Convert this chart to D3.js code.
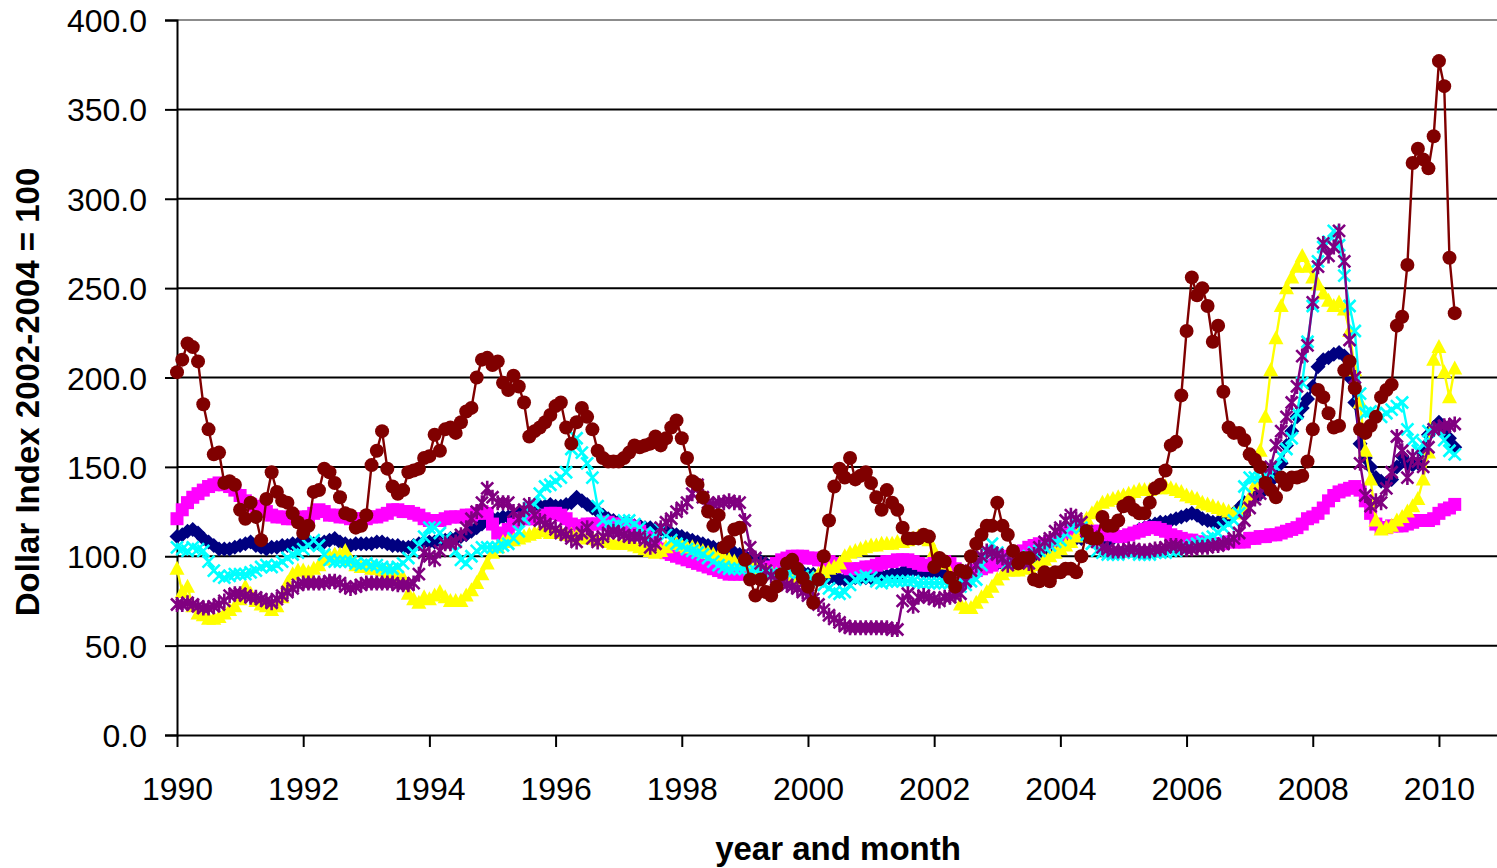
<!DOCTYPE html>
<html><head><meta charset="utf-8">
<script src="https://cdn.jsdelivr.net/npm/d3@7"></script>
<style>
html,body{margin:0;padding:0;background:#fff;}
svg{display:block;}
text{font-family:"Liberation Sans",Arial,sans-serif;fill:#000;}
</style></head>
<body>
<svg id="chart" width="1497" height="868"></svg>
<script>
// Monthly observations, Jan 1990 .. Apr 2010
const startYear = 1990;
const xTickYears = [1990,1992,1994,1996,1998,2000,2002,2004,2006,2008,2010];
const yTickValues = [0,50,100,150,200,250,300,350,400];
const yAxisTitle = "Dollar Index 2002-2004 = 100";
const xAxisTitle = "year and month";

const navy = [
111,112,114,115,113,110,108,106,104,104,104,105,
106,107,108,106,105,104,105,105,106,106,107,107,
108,108,107,107,108,109,110,108,107,106,107,107,
107,107,108,108,107,106,106,105,105,106,107,108,
108,108,109,109,110,110,111,112,114,116,118,120,
121,121,122,122,123,124,125,126,127,128,128,129,
128,128,129,130,133,131,129,127,125,123,121,120,
119,118,118,117,117,116,116,115,115,114,113,112,
111,110,109,108,107,106,105,104,103,102,102,101,
100,99,98,97,96,95,94,93,93,92,91,91,
90,90,89,89,88,88,87,87,87,88,88,88,
88,89,89,89,90,90,91,92,92,92,91,91,
91,91,90,90,89,88,89,91,93,94,95,96,
96,96,97,97,98,98,99,100,101,102,104,106,
107,108,109,110,110,111,111,110,109,109,110,111,
111,112,113,115,116,117,118,119,119,120,121,122,
123,124,123,121,120,119,119,120,122,124,127,130,
131,133,135,138,142,146,152,162,170,178,183,188,
195,206,210,211,213,214,212,200,186,163,155,150,
144,142,141,143,150,156,152,151,152,158,168,172,
175,170,166,161];

const magenta = [
121,126,130,133,135,137,139,140,141,140,139,137,
134,131,129,128,127,125,123,122,122,121,121,121,
122,122,124,126,125,123,123,122,122,121,121,121,
121,122,122,123,124,126,126,125,125,124,123,121,
120,120,120,121,122,122,122,123,123,124,125,124,
118,113,112,115,118,121,121,121,121,122,123,124,
124,123,121,118,117,117,118,118,118,119,119,118,
118,118,117,116,114,112,110,107,104,102,101,100,
99,98,97,96,95,94,93,92,91,90,90,90,
90,91,91,92,93,94,96,98,99,100,100,100,
99,99,98,98,97,96,95,94,93,93,93,94,
94,95,96,97,97,98,98,98,97,96,95,95,
97,97,97,96,93,91,90,90,92,93,94,95,
97,99,100,101,102,103,105,106,107,107,108,109,
111,113,114,115,115,115,114,114,113,112,112,111,
111,112,113,114,115,116,116,115,114,112,111,110,
109,109,108,108,107,107,107,107,108,108,108,108,
110,110,111,111,112,112,113,114,115,116,118,121,
122,124,127,131,134,136,137,138,139,137,131,124,
118,116,116,117,117,117,118,119,120,120,120,121,
124,126,127,129];

const yellow = [
93,80,83,72,68,67,65,65,66,68,70,72,
76,83,79,75,73,72,70,72,77,85,90,92,
92,91,93,95,98,100,101,101,103,98,95,94,
94,93,93,92,91,90,89,88,79,76,74,77,
76,78,80,77,75,75,75,78,81,85,90,96,
102,105,108,109,109,110,111,112,113,114,114,113,
113,113,112,112,111,111,110,110,109,109,108,107,
107,107,107,106,105,104,103,102,103,105,107,107,
106,105,105,104,103,102,101,100,99,98,97,96,
96,95,94,93,92,91,90,89,88,88,87,87,
87,88,90,91,93,94,96,100,102,103,104,105,
106,106,107,107,107,108,108,109,110,111,110,109,
103,98,96,90,83,73,71,71,74,77,80,83,
87,90,92,92,92,93,94,95,96,98,100,102,
104,106,108,111,116,121,124,127,130,131,132,133,
134,135,136,137,137,137,138,138,139,138,137,136,
134,133,132,130,129,128,127,126,125,124,124,126,
133,140,159,178,204,222,240,250,256,262,268,262,
256,252,247,243,240,242,238,226,204,186,159,143,
120,115,116,117,120,122,125,128,132,143,158,210,
217,203,189,205];

const cyan = [
105,104,103,105,104,103,97,92,89,88,89,90,
90,90,91,92,94,95,94,95,97,99,101,102,
104,106,109,106,101,98,97,97,97,97,96,95,
96,95,95,94,93,93,94,96,99,102,106,111,
116,116,113,110,107,103,98,96,100,103,105,105,
105,105,106,107,110,114,121,127,129,135,139,140,
142,144,147,160,166,158,152,144,128,120,118,117,
118,120,120,118,116,113,110,113,115,112,109,107,
106,104,103,102,101,99,97,95,94,93,93,93,
93,92,92,91,91,90,90,90,91,91,90,89,
88,87,86,84,82,80,79,80,84,87,88,89,
88,86,85,86,86,86,86,86,86,85,85,85,
85,85,85,85,84,83,84,86,87,95,102,107,
102,99,96,97,98,99,100,102,103,105,106,108,
109,113,116,118,116,112,107,103,102,101,101,101,
102,102,102,101,101,101,102,102,102,103,103,104,
105,106,107,108,110,111,113,116,118,120,124,139,
144,144,144,145,146,150,156,160,166,180,197,220,
240,265,273,276,282,274,257,240,226,191,180,181,
180,178,180,182,184,186,171,165,159,163,170,171,
171,165,159,157];

const purple = [
73,73,74,73,72,71,71,72,73,75,78,79,
79,78,77,77,76,75,74,76,78,80,82,84,
85,85,85,85,85,86,86,85,83,82,83,84,
85,85,85,85,85,85,84,84,84,85,90,102,
100,98,103,107,107,108,112,116,121,125,130,138,
133,130,130,130,125,121,126,129,123,120,118,117,
115,113,112,110,108,113,116,110,108,111,113,114,
113,112,111,111,111,109,105,107,116,119,121,125,
127,130,135,140,133,130,129,130,130,131,130,130,
120,105,99,96,92,89,87,85,84,83,82,80,
78,76,73,70,67,65,63,61,60,60,60,60,
60,60,60,60,59,59,75,79,72,77,78,77,
76,75,77,77,78,79,86,92,95,100,103,102,
101,99,95,97,98,97,96,101,105,108,110,114,
116,120,123,121,119,114,111,108,105,104,103,103,
103,104,104,103,103,103,104,104,105,106,106,105,
104,104,105,105,105,106,106,107,108,110,113,120,
127,132,135,140,150,162,170,178,186,195,212,218,
242,262,275,268,273,282,265,221,200,152,134,128,
131,130,138,147,167,159,144,156,153,150,161,171,
172,173,173,174];

const darkred = [
203,210,219,217,209,185,171,157,158,141,142,140,
126,121,130,122,109,132,147,136,131,130,124,119,
113,117,136,137,149,147,141,133,124,123,116,117,
123,151,159,170,149,139,135,137,147,148,149,155,
156,168,159,171,172,169,175,181,183,200,210,211,
207,209,197,193,201,195,186,167,170,172,175,179,
184,186,172,163,175,183,178,171,159,155,153,153,
153,155,158,162,161,162,163,167,162,166,172,176,
166,155,142,140,133,125,117,123,105,108,115,116,
98,87,78,87,80,78,83,90,96,98,93,88,
83,74,87,100,120,139,149,144,155,143,145,147,
141,133,126,137,130,126,116,110,110,110,112,111,
94,99,97,88,83,92,91,100,107,112,117,117,
130,117,112,103,96,99,99,87,86,91,86,91,
91,93,93,91,100,114,110,110,122,117,117,120,
128,130,126,124,124,130,138,140,148,162,164,190,
226,256,246,250,240,220,229,192,172,169,169,165,
157,154,150,141,137,133,144,140,144,144,145,153,
171,193,189,180,172,173,204,209,194,171,169,173,
178,189,193,196,229,234,263,320,328,322,317,335,
377,363,267,236];

const seriesList = [
  {name:"navy", values:navy, color:"#000080", marker:"diamond"},
  {name:"magenta", values:magenta, color:"#FF00FF", marker:"square"},
  {name:"yellow", values:yellow, color:"#FFFF00", marker:"triangle"},
  {name:"cyan", values:cyan, color:"#00FFFF", marker:"x"},
  {name:"purple", values:purple, color:"#800080", marker:"star"},
  {name:"darkred", values:darkred, color:"#800000", marker:"circle"}
];

const svg = d3.select("#chart");
const x = d3.scaleLinear().domain([1990, 2010.92]).range([177, 1497]);
const y = d3.scaleLinear().domain([0, 400]).range([735, 20]);

// gridlines
svg.append("g").selectAll("line").data(yTickValues.filter(v => v > 0)).join("line")
  .attr("x1", 177).attr("x2", 1497)
  .attr("y1", d => y(d)).attr("y2", d => y(d))
  .attr("stroke", d => d === 400 ? "#8c8c8c" : "#000").attr("stroke-width", 2);

// y axis
const yAxis = d3.axisLeft(y).tickValues(yTickValues).tickFormat(d3.format(".1f")).tickSize(12).tickPadding(18);
const gy = svg.append("g").attr("transform", "translate(177,0)").call(yAxis);
gy.select(".domain").attr("stroke", "#000").attr("stroke-width", 2);
gy.selectAll(".tick line").attr("stroke", "#000").attr("stroke-width", 2);
gy.selectAll(".tick text").attr("font-size", 32).attr("font-family", "Liberation Sans, Arial, sans-serif").attr("fill", "#000").attr("dy", "0.36em");

// x axis
const xAxis = d3.axisBottom(x).tickValues(xTickYears).tickFormat(d3.format("d")).tickSize(12).tickPadding(30).tickSizeOuter(0);
const gx = svg.append("g").attr("transform", "translate(0,735)").call(xAxis);
gx.select(".domain").attr("stroke", "#000").attr("stroke-width", 2);
gx.selectAll(".tick line").attr("stroke", "#000").attr("stroke-width", 2);
gx.selectAll(".tick text").attr("font-size", 32).attr("font-family", "Liberation Sans, Arial, sans-serif").attr("fill", "#000");

// axis titles
svg.append("text").attr("transform", "translate(39,392) rotate(-90)")
  .attr("text-anchor", "middle").attr("font-size", 33).attr("font-weight", "bold").text(yAxisTitle);
svg.append("text").attr("x", 838).attr("y", 860)
  .attr("text-anchor", "middle").attr("font-size", 33).attr("font-weight", "bold").text(xAxisTitle);

function markerPath(type) {
  switch (type) {
    case "diamond": return `M0,-7.5L7.5,0L0,7.5L-7.5,0Z`;
    case "square": return `M-6.5,-6.5H6.5V6.5H-6.5Z`;
    case "triangle": return `M0,-8L7.5,6L-7.5,6Z`;
    case "x": return `M-6,-6L6,6M-6,6L6,-6`;
    case "star": return `M-6,-6L6,6M-6,6L6,-6M0,-7.5L0,7.5`;
  }
  return "";
}

const line = d3.line().x((d, i) => x(startYear + i / 12)).y(d => y(d));

seriesList.forEach(s => {
  const g = svg.append("g");
  g.append("path").datum(s.values).attr("d", line)
    .attr("fill", "none").attr("stroke", s.color).attr("stroke-width", 2.4).attr("stroke-linejoin", "round");
  const pts = s.values.map((v, i) => [x(startYear + i / 12), y(v)]);
  if (s.marker === "circle") {
    g.selectAll("circle").data(pts).join("circle")
      .attr("cx", d => d[0]).attr("cy", d => d[1]).attr("r", 7).attr("fill", s.color);
  } else if (s.marker === "x" || s.marker === "star") {
    g.selectAll("path.m").data(pts).join("path").attr("class", "m")
      .attr("d", markerPath(s.marker)).attr("transform", d => `translate(${d[0]},${d[1]})`)
      .attr("fill", "none").attr("stroke", s.color).attr("stroke-width", 2.6);
  } else {
    g.selectAll("path.m").data(pts).join("path").attr("class", "m")
      .attr("d", markerPath(s.marker)).attr("transform", d => `translate(${d[0]},${d[1]})`)
      .attr("fill", s.color);
  }
});
</script>
</body></html>
